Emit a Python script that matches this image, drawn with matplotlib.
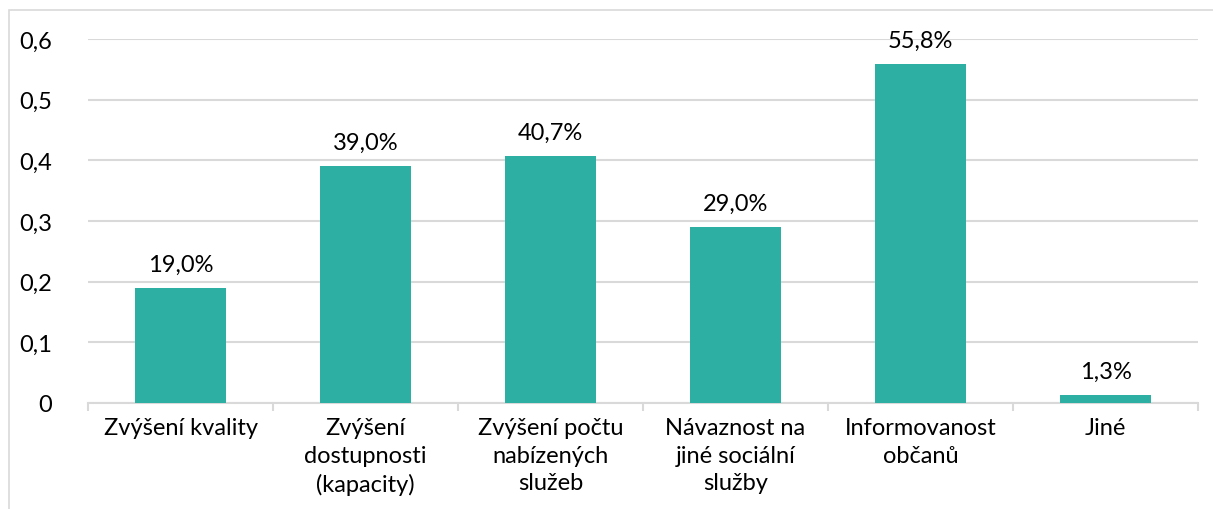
import matplotlib.pyplot as plt
import matplotlib.patches as patches
import numpy as np

categories = ["Zvýšení kvality", "Zvýšení\ndostupnosti\n(kapacity)", "Zvýšení počtu\nnabízených\nslužeb",
              "Návaznost na\njiné sociální\nslužby", "Informovanost\nobčanů", "Jiné"]
values = [0.190, 0.390, 0.407, 0.290, 0.558, 0.013]
yticks = [0, 0.1, 0.2, 0.3, 0.4, 0.5, 0.6]
ytick_labels = ["0", "0,1", "0,2", "0,3", "0,4", "0,5", "0,6"]

plt.rcParams['font.family'] = ['Lato', 'DejaVu Sans']

fig = plt.figure(figsize=(12.13, 5.10), dpi=100)
ax = fig.add_axes([88/1213, 1 - 404/510, (1198-88)/1213, (404-40)/510])

x = np.arange(len(categories))
bars = ax.bar(x, values, width=0.49, color="#2EAFA4", zorder=3)
for xi, v in zip(x, values):
    ax.text(xi, v + 0.022, f"{v*100:.1f}%".replace(".", ","), ha="center", va="bottom", fontsize=17)

ax.set_xlim(-0.5, len(categories) - 0.5)
ax.set_ylim(0, 0.6)
ax.set_yticks(yticks)
ax.set_yticklabels(ytick_labels, fontsize=17)
ax.set_xticks(x)
ax.set_xticklabels(categories, fontsize=17, linespacing=1.4)
ax.tick_params(axis="x", length=0, pad=10)
ax.tick_params(axis="y", length=0, pad=26)
ax.set_xticks(np.arange(-0.5, len(categories), 1), minor=True)
ax.tick_params(axis="x", which="minor", length=6, color="#D9D9D9", width=1.5)
ax.grid(axis="y", color="#D9D9D9", linewidth=1.5, zorder=0)
for s in ["top", "right", "left"]:
    ax.spines[s].set_visible(False)
ax.spines["bottom"].set_color("#D9D9D9")
ax.spines["bottom"].set_linewidth(1.5)

border = patches.Rectangle((9/1213, -0.1), 1.1, 1.1 - 11/510, transform=fig.transFigure,
                           fill=False, edgecolor="#D9D9D9", linewidth=1.2, clip_on=False)
fig.patches.append(border)

fig.savefig("out.png", dpi=100)
